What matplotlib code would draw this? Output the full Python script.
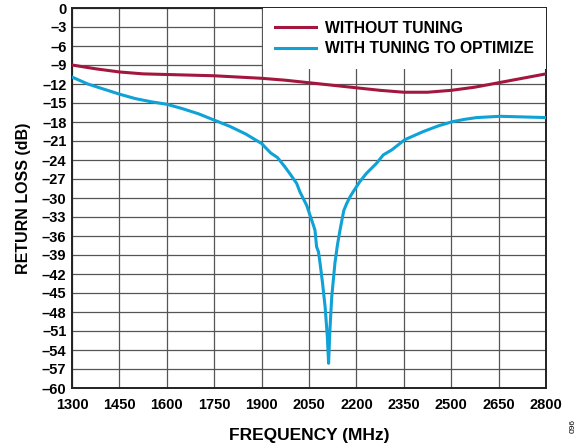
import matplotlib
matplotlib.use("Agg")
import matplotlib.pyplot as plt
import numpy as np

plt.rcParams['font.family'] = ['Liberation Sans', 'DejaVu Sans']

# Data
freq_without = [1300, 1375, 1450, 1525, 1600, 1675, 1750, 1825, 1900, 1975, 2050, 2125,
                2200, 2275, 2350, 2425, 2500, 2575, 2650, 2725, 2800]
rl_without = [-9.0, -9.6, -10.1, -10.4, -10.5, -10.6, -10.7, -10.9, -11.1, -11.4, -11.8, -12.2,
              -12.6, -13.0, -13.3, -13.3, -13.0, -12.5, -11.8, -11.1, -10.4]

freq_with = [1300, 1350, 1400, 1450, 1500, 1550, 1600, 1650, 1700, 1750, 1800, 1850, 1900,
             1929, 1950, 1974, 1990, 2011, 2021, 2032, 2043, 2053, 2062, 2069, 2074, 2080,
             2085, 2093, 2101, 2108, 2112, 2116, 2122, 2132, 2140, 2148, 2160, 2169, 2180,
             2190, 2211, 2232, 2264, 2285, 2312, 2353, 2412, 2460, 2503, 2540, 2581, 2654,
             2728, 2800]
rl_with = [-10.9, -12.0, -12.8, -13.6, -14.3, -14.8, -15.2, -15.9, -16.7, -17.7, -18.7, -19.9, -21.4,
           -22.9, -23.6, -25.1, -26.2, -27.7, -29.0, -30.1, -31.2, -32.7, -34.0, -35.1, -37.7, -38.5,
           -40.3, -43.5, -47.2, -51.9, -56.1, -51.0, -45.6, -40.3, -37.4, -35.1, -32.0, -30.9, -29.8,
           -29.0, -27.4, -26.1, -24.5, -23.2, -22.4, -20.8, -19.5, -18.6, -17.96, -17.6, -17.3, -17.1,
           -17.2, -17.3]

xticks = list(range(1300, 2801, 150))
yticks = list(range(-60, 1, 3))

red = '#a3173f'
blue = '#0ea2d6'

fig = plt.figure(figsize=(5.85, 4.46), dpi=100)
ax = fig.add_axes([72/585, (446-388)/446, (546-72)/585, (388-8)/446])

ax.plot(freq_without, rl_without, color=red, lw=2.2, label='WITHOUT TUNING', zorder=3)
ax.plot(freq_with, rl_with, color=blue, lw=2.2, label='WITH TUNING TO OPTIMIZE', zorder=3)

ax.set_xlim(1300, 2800)
ax.set_ylim(-60, 0)
ax.set_xticks(xticks)
ax.set_yticks(yticks)
ax.set_xticklabels([str(t) for t in xticks], fontsize=10.5, fontweight='bold')
ax.set_yticklabels([str(t).replace('-', '\u2013') for t in yticks], fontsize=10.5, fontweight='bold')
ax.tick_params(axis='x', length=0, pad=7)
ax.tick_params(axis='y', length=0, pad=4)
ax.grid(True, color='#555555', lw=0.9)
for s in ax.spines.values():
    s.set_linewidth(1.4)
    s.set_color('#222222')

ax.set_xlabel('FREQUENCY (MHz)', fontsize=12.5, fontweight='bold', labelpad=11.5)
ax.set_ylabel('RETURN LOSS (dB)', fontsize=11.5, fontweight='bold', labelpad=8)

leg = ax.legend(loc='upper right', frameon=True, fancybox=False, framealpha=1,
                edgecolor='white', prop={'weight': 'bold', 'size': 11.3},
                handlelength=2.6, handletextpad=0.55, borderaxespad=0.0,
                borderpad=0.8, labelspacing=0.35)
leg.get_frame().set_linewidth(0)

fig.text(573/585, 1 - 426/446, '096', rotation=90, fontsize=6, ha='center', va='center')

fig.savefig('out.png', dpi=100)
